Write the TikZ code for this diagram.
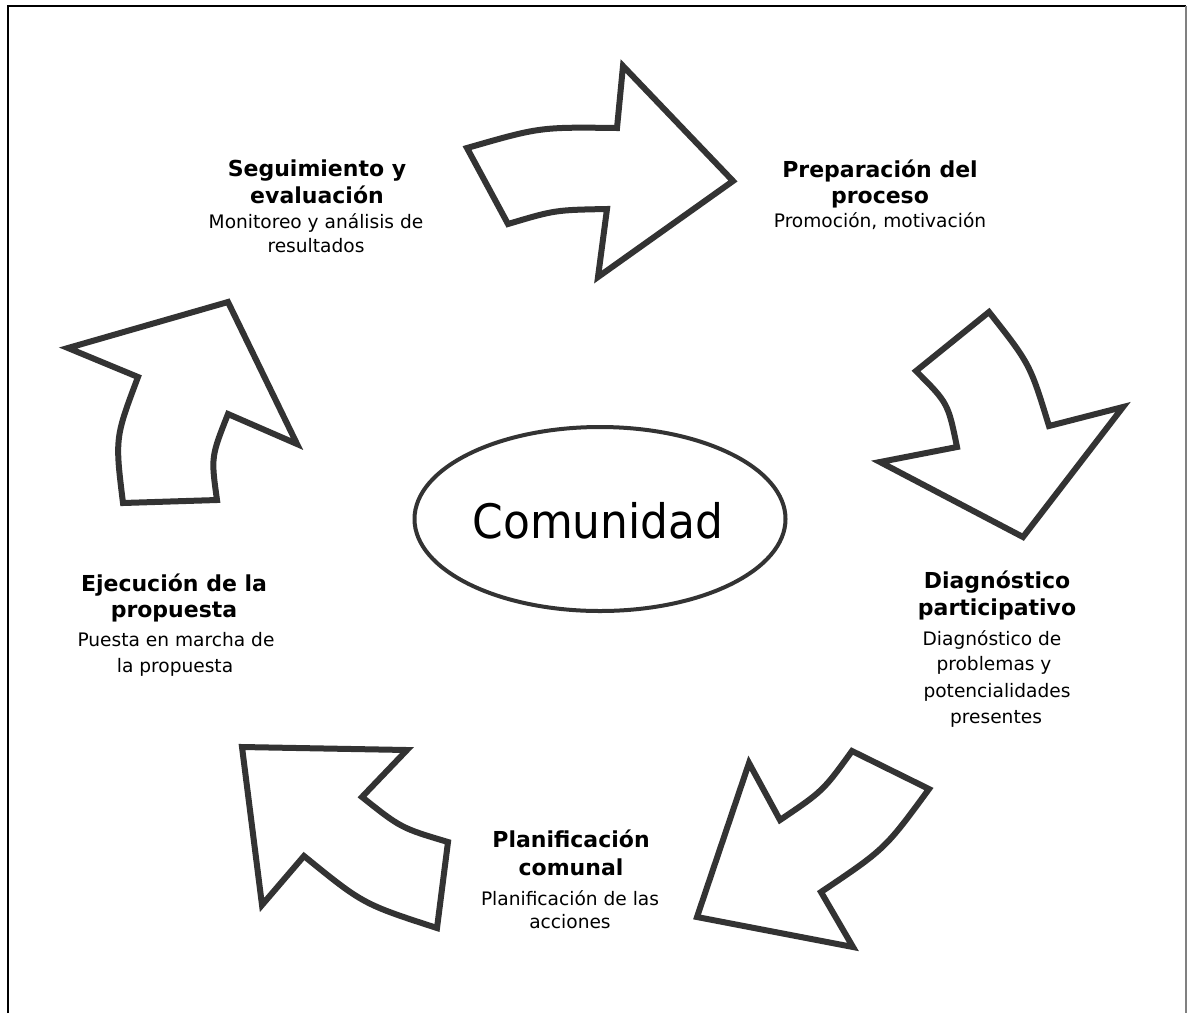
\documentclass[tikz,border=0pt]{standalone}
\usepackage{fontspec}
\usetikzlibrary{shapes.geometric}
\setmainfont{DejaVu Sans}
\definecolor{arrowgray}{HTML}{333333}
\definecolor{framegray}{HTML}{808080}
\begin{document}
\begin{tikzpicture}[x=1pt,y=-1pt,
  bigarrow/.style={draw=arrowgray,fill=white,line width=6pt,line join=miter},
  ttl/.style={anchor=base,inner sep=0pt,font=\fontsize{22}{26}\selectfont\bfseries},
  dsc/.style={anchor=base,inner sep=0pt,font=\fontsize{18.6}{22}\selectfont}]
\useasboundingbox (0,0) rectangle (1188,1013);
\fill[white] (0,0) rectangle (1188,1013);
% frame
\draw[line width=1.6pt,black] (8,1013) -- (8,6) -- (1186,6);
\draw[line width=1.6pt,framegray] (1186,6) -- (1186,1013);

% arrow 1 (top)
\draw[bigarrow] (467,148) .. controls (540,127) .. (617,128) -- (623,66) -- (733,181)
  -- (598,277) -- (607,209) .. controls (555,210) .. (508,224) -- cycle;
% arrow 2 (right)
\draw[bigarrow] (989,312) .. controls (1030,364) .. (1049,426) -- (1123,407) -- (1023,537)
  -- (880,462) -- (957,447) .. controls (948,403) .. (916,371) -- cycle;
% arrow 3 (bottom right)
\draw[bigarrow] (852,751) -- (929,789) .. controls (885,849) .. (821,892) -- (853,947)
  -- (697,917) -- (749,763) -- (780,820) .. controls (823,791) .. (852,751) -- cycle;
% arrow 4 (bottom left)
\draw[bigarrow] (242,747) -- (407,750) -- (362,797) .. controls (401,828) .. (448,842)
  -- (437,928) .. controls (363,904) .. (304,856) -- (262,905) -- cycle;
% arrow 5 (left)
\draw[bigarrow] (123,503) -- (217,500) .. controls (211,457) .. (228,414) -- (297,444)
  -- (228,302) -- (68,348) -- (138,377) .. controls (115,438) .. (123,503) -- cycle;

% centre
\node[draw=arrowgray,line width=4pt,ellipse,minimum width=371pt,minimum height=184pt,inner sep=0pt] (com) at (600,519) {};
\node[anchor=base,inner sep=0pt,font=\fontsize{47.5}{55}\selectfont] (comt) at (598,538) {\scalebox{0.925}[1]{Comunidad}};

% Seguimiento
\node[ttl] (s1) at (317,176) {Seguimiento y};
\node[ttl] (s2) at (317,203) {evaluación};
\node[dsc] (s3) at (316,228) {Monitoreo y análisis de};
\node[dsc] (s4) at (316,252) {resultados};
% Preparacion
\node[ttl] (p1) at (880,177) {Preparación del};
\node[ttl] (p2) at (880,203) {proceso};
\node[dsc] (p3) at (880,227) {Promoción, motivación};
% Diagnostico
\node[ttl] (d1) at (997,588) {Diagnóstico};
\node[ttl] (d2) at (997,615) {participativo};
\node[dsc] (d3) at (992,645) {Diagnóstico de};
\node[dsc] (d4) at (994,670) {problemas y};
\node[dsc] (d5) at (997,697) {potencialidades};
\node[dsc] (d6) at (996,723) {presentes};
% Planificacion
\node[ttl] (l1) at (571,847) {Planificación};
\node[ttl] (l2) at (571,875) {comunal};
\node[dsc] (l3) at (570,905) {Planificación de las};
\node[dsc] (l4) at (570,928) {acciones};
% Ejecucion
\node[ttl] (e1) at (174,591) {Ejecución de la};
\node[ttl] (e2) at (174,617) {propuesta};
\node[dsc] (e3) at (176,646) {Puesta en marcha de};
\node[dsc] (e4) at (175,672) {la propuesta};
\end{tikzpicture}
\end{document}
